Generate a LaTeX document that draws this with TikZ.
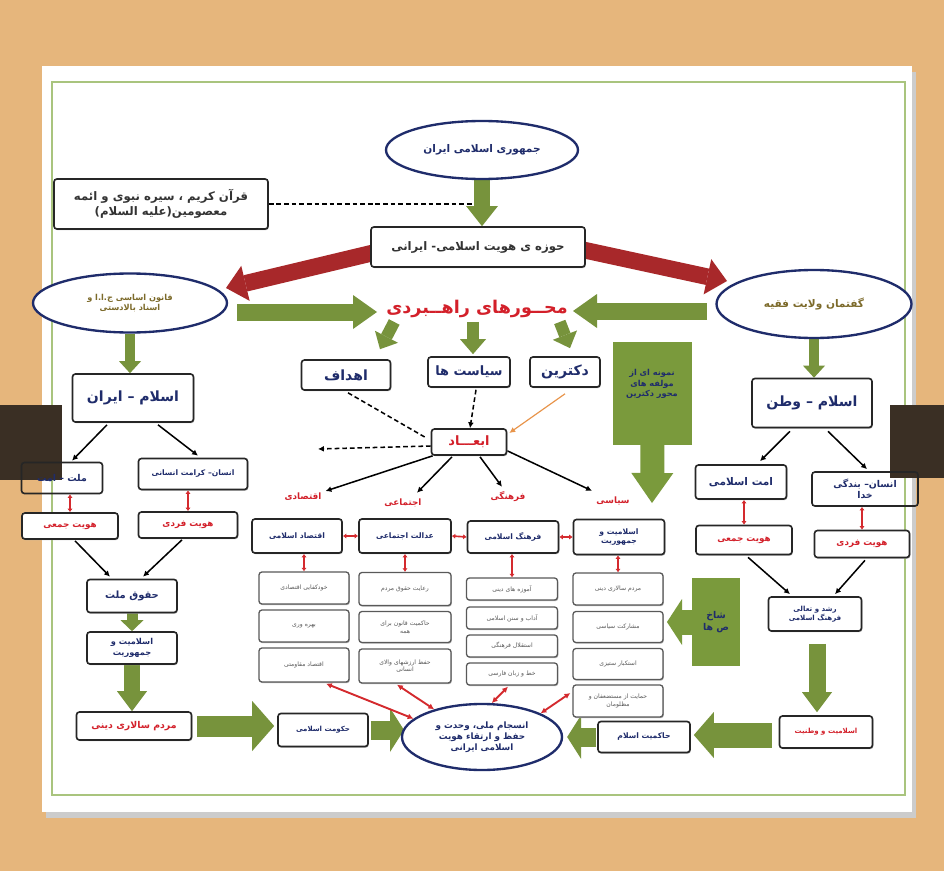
\documentclass[tikz,border=0pt]{standalone}
\usepackage{fontspec}
\usetikzlibrary{arrows.meta,shapes.geometric,shadows,calc}
\TeXXeTstate=1
\newfontfamily\arabicfont[Script=Arabic]{DejaVu Sans}
\newcommand\R[1]{{\arabicfont\beginR #1\endR}}
\newcommand\fsz[1]{\fontsize{#1}{\fpeval{#1*1.25}}\selectfont}
\definecolor{navy}{HTML}{1F2C6B}
\definecolor{redt}{HTML}{D3202A}
\definecolor{redA}{HTML}{A8282A}
\definecolor{redC}{HTML}{D42A2E}
\definecolor{gA}{HTML}{77933C}
\definecolor{gB}{HTML}{7A9A3C}
\definecolor{wood}{HTML}{E6B67C}
\definecolor{darkb}{HTML}{3A2F24}
\definecolor{gline}{HTML}{A9C47E}
\definecolor{olivet}{HTML}{7C6A2A}
\definecolor{orangeA}{HTML}{E8944A}
\pgfdeclarelayer{back}
\pgfdeclarelayer{conn}
\pgfsetlayers{back,conn,main}
\begin{document}
\begin{tikzpicture}[x=0.03cm,y=-0.03cm,
  wh/.style 2 args={minimum width=#1*0.03cm, minimum height=#2*0.03cm},
  box/.style={draw=black!85, line width=1.4pt, rounded corners=2.5pt, fill=white, inner sep=1pt, align=center, text=navy,
    general shadow={fill=black!30, shadow xshift=0.7pt, shadow yshift=-1pt}},
  tbox/.style={draw=black!85, line width=1.4pt, rounded corners=2.5pt, inner sep=1pt, align=center, text=navy},
  item/.style={box, draw=black!65, line width=1.1pt, text=black!65, font=\fsz{5.2}},
  ell/.style={ellipse, draw=navy, line width=2pt, fill=white, inner sep=0pt, align=center},
  blk/.style n args={4}{draw=#1, line width=#2, -{Triangle[width=#3,length=#4,line width=0pt]}},
  barr/.style={draw=black, line width=1.3pt, -{Latex[length=5pt,width=5pt]}},
  rcon/.style={draw=redC, line width=1.4pt, {Latex[length=3pt,width=4.5pt]}-{Latex[length=3pt,width=4.5pt]}},
  rarr/.style={draw=redC, line width=1.6pt, {Latex[length=5pt,width=5pt]}-{Latex[length=5pt,width=5pt]}},
  dsh/.style={draw=black, line width=1.3pt, dash pattern=on 4pt off 2.5pt},
  rlab/.style={text=redt, font=\fsz{7.5}\bfseries},
]
\useasboundingbox (0,0) rectangle (944,871);
\begin{pgfonlayer}{back}
\fill[wood] (0,0) rectangle (944,871);
\fill[black!20] (46,72) rectangle (916,818);
\fill[white] (42,66) rectangle (912,812);
\draw[gline, line width=2pt] (52,82) rectangle (905,795);
\fill[darkb] (0,405) rectangle (62,480);
\fill[darkb] (890,405) rectangle (944,478);
\end{pgfonlayer}

% top
\node[ell, wh={192}{58}, font=\fsz{9}\bfseries, text=navy] (jom) at (482,150) {\R{جمهوری اسلامی ایران}};
\node[box, wh={214}{50}, font=\fsz{10}\bfseries, text=black!80] (quran) at (161,204) {\R{قرآن کریم ، سیره نبوی و ائمه}\\\R{معصومین(علیه السلام)}};
\node[box, wh={214}{40}, font=\fsz{10}\bfseries, text=black!80] (hozeh) at (478,247) {\R{حوزه ی هویت اسلامی- ایرانی}};
\node[ell, wh={194}{59}, font=\fsz{7}\bfseries, text=olivet] (qanoon) at (130,303) {\R{قانون اساسی ج.ا.ا و}\\\R{اسناد بالادستی}};
\node[ell, wh={195}{68}, font=\fsz{9}\bfseries, text=olivet] (goft) at (814,304) {\R{گفتمان ولایت فقیه}};
\node[text=redt, font=\fsz{15}\bfseries] (mehvar) at (477,309) {\R{محــورهای راهــبردی}};

% strategic axes
\node[box, wh={89}{30}, font=\fsz{12}\bfseries] (ahdaf) at (346,375) {\R{اهداف}};
\node[box, wh={82}{30}, font=\fsz{11}\bfseries] (siasat) at (469,372) {\R{سیاست ها}};
\node[box, wh={70}{30}, font=\fsz{12}\bfseries] (doct) at (565,372) {\R{دکترین}};
\node[fill=gB, wh={79}{103}, inner sep=0pt] (nembox) at (652.5,393.5) {};
\node[font=\fsz{7}\bfseries, text=navy, align=center] (nemtxt) at (652,384) {\R{نمونه ای از}\\\R{مولفه های}\\\R{محور دکترین}};
\node[box, wh={75}{26}, font=\fsz{11}\bfseries, text=redt] (abad) at (469,442) {\R{ابعـــاد}};

% left column
\node[box, wh={121}{48}, font=\fsz{12}\bfseries] (ei) at (133,398) {\R{اسلام – ایران}};
\node[tbox, wh={81}{31}, font=\fsz{8}\bfseries] (mel) at (62,478) {\R{ملت – امت}};
\node[box, wh={109}{31}, font=\fsz{6.5}\bfseries] (ensk) at (193,474) {\R{انسان– کرامت انسانی}};
\node[box, wh={96}{26}, font=\fsz{7.5}\bfseries, text=redt] (hj1) at (70,526) {\R{هویت جمعی}};
\node[box, wh={99}{26}, font=\fsz{7.5}\bfseries, text=redt] (hf1) at (188,525) {\R{هویت فردی}};
\node[box, wh={90}{33}, font=\fsz{8.5}\bfseries] (hoq) at (132,596) {\R{حقوق ملت}};
\node[box, wh={90}{32}, font=\fsz{7}\bfseries] (esj1) at (132,648) {\R{اسلامیت و}\\\R{جمهوریت}};
\node[box, wh={115}{28}, font=\fsz{8}\bfseries, text=redt] (mrd) at (134,726) {\R{مردم سالاری دینی}};
\node[box, wh={90}{33}, font=\fsz{6}\bfseries] (hok) at (323,730) {\R{حکومت اسلامی}};

% center bottom
\node[ell, wh={160}{66}, font=\fsz{7.5}\bfseries, text=navy] (cent) at (482,737) {\R{انسجام ملی، وحدت و}\\\R{حفظ و ارتقاء هویت}\\\R{اسلامی ایرانی}};
\node[box, wh={92}{31}, font=\fsz{6.5}\bfseries] (hak) at (644,737) {\R{حاکمیت اسلام}};
\node[box, wh={93}{32}, font=\fsz{6}\bfseries, text=redt] (esv) at (826,732) {\R{اسلامیت و وطنیت}};

% right column
\node[box, wh={120}{49}, font=\fsz{12}\bfseries] (ev) at (812,403) {\R{اسلام – وطن}};
\node[box, wh={91}{34}, font=\fsz{9}\bfseries] (omt) at (741,482) {\R{امت اسلامی}};
\node[tbox, wh={106}{34}, font=\fsz{8}\bfseries] (ensb) at (865,489) {\R{انسان– بندگی}\\\R{خدا}};
\node[box, wh={96}{29}, font=\fsz{7.5}\bfseries, text=redt] (hj2) at (744,540) {\R{هویت جمعی}};
\node[box, wh={95}{27}, font=\fsz{7.5}\bfseries, text=redt] (hf2) at (862,544) {\R{هویت فردی}};
\node[box, wh={93}{34}, font=\fsz{6}\bfseries] (rsh) at (815,614) {\R{رشد و تعالی}\\\R{فرهنگ اسلامی}};

% dimensions
\node[rlab] (l1) at (303,497) {\R{اقتصادی}};
\node[rlab] (l2) at (403,503) {\R{اجتماعی}};
\node[rlab] (l3) at (508,497) {\R{فرهنگی}};
\node[rlab] (l4) at (613,501) {\R{سیاسی}};
\node[box, wh={90}{34}, font=\fsz{6.5}\bfseries] (c1) at (297,536) {\R{اقتصاد اسلامی}};
\node[box, wh={92}{34}, font=\fsz{6.5}\bfseries] (c2) at (405,536) {\R{عدالت اجتماعی}};
\node[box, wh={91}{32}, font=\fsz{6.5}\bfseries] (c3) at (513,537) {\R{فرهنگ اسلامی}};
\node[box, wh={91}{35}, font=\fsz{6.5}\bfseries] (c4) at (619,537) {\R{اسلامیت و}\\\R{جمهوریت}};

\node[item, wh={90}{32}] (i11) at (304,588) {\R{خودکفایی اقتصادی}};
\node[item, wh={90}{32}] (i12) at (304,626) {\R{بهره وری}};
\node[item, wh={90}{34}] (i13) at (304,665) {\R{اقتصاد مقاومتی}};
\node[item, wh={92}{33}] (i21) at (405,589) {\R{رعایت حقوق مردم}};
\node[item, wh={92}{31}] (i22) at (405,627) {\R{حاکمیت قانون برای}\\\R{همه}};
\node[item, wh={92}{34}] (i23) at (405,666) {\R{حفظ ارزشهای والای}\\\R{انسانی}};
\node[item, wh={91}{22}] (i31) at (512,589) {\R{آموزه های دینی}};
\node[item, wh={91}{22}] (i32) at (512,618) {\R{آداب و سنن اسلامی}};
\node[item, wh={91}{22}] (i33) at (512,646) {\R{استقلال فرهنگی}};
\node[item, wh={91}{22}] (i34) at (512,674) {\R{خط و زبان فارسی}};
\node[item, wh={90}{32}] (i41) at (618,589) {\R{مردم سالاری دینی}};
\node[item, wh={90}{31}] (i42) at (618,627) {\R{مشارکت سیاسی}};
\node[item, wh={90}{31}] (i43) at (618,664) {\R{استکبار ستیزی}};
\node[item, wh={90}{32}] (i44) at (618,701) {\R{حمایت از مستضعفان و}\\\R{مظلومان}};
\node[fill=gB, wh={48}{88}, font=\fsz{8}\bfseries, text=navy, align=center] (shbox) at (716,622) {\R{شاخ}\\\R{ص ها}};

% free ends
\coordinate (dqend) at (472,204);
\coordinate (rLs) at (385,250);
\coordinate (rLe) at (226,288);
\coordinate (rRs) at (570,247);
\coordinate (rRe) at (727,281);
\coordinate (gLs) at (237,312);
\coordinate (gLe) at (377,312);
\coordinate (gRs) at (707,311);
\coordinate (gRe) at (573,311);
\coordinate (nemtip) at (652,503);
\coordinate (shtip) at (667,622);
\coordinate (dl) at (318,449);
\coordinate (hokend) at (404,730);

\begin{pgfonlayer}{conn}
\draw[dsh] (quran.east) -- (dqend);
\draw[blk={gA}{0.48cm}{0.95cm}{0.6cm}] (jom.south) -- (jom.south |- hozeh.north);
\draw[blk={redA}{0.5cm}{1.08cm}{0.6cm}] (rLs) -- (rLe);
\draw[blk={redA}{0.5cm}{1.08cm}{0.6cm}] (rRs) -- (rRe);
\draw[blk={gA}{0.51cm}{1.02cm}{0.72cm}] (gLs) -- (gLe);
\draw[blk={gA}{0.51cm}{1.02cm}{0.72cm}] (gRs) -- (gRe);
\draw[blk={gA}{0.36cm}{0.78cm}{0.42cm}] ($(mehvar.south west)+(12,0)$) -- ($(ahdaf.north)+(34,-10)$);
\draw[blk={gA}{0.36cm}{0.78cm}{0.45cm}] ($(mehvar.south)+(-4,0)$) -- ($(siasat.north)+(4,-2)$);
\draw[blk={gA}{0.36cm}{0.78cm}{0.42cm}] ($(mehvar.south east)+(-12,0)$) -- ($(doct.north)+(5,-8)$);
\draw[blk={gA}{0.3cm}{0.66cm}{0.36cm}] (qanoon.south) -- (qanoon.south |- ei.north);
\draw[blk={gA}{0.3cm}{0.66cm}{0.36cm}] (goft.south) -- (goft.south |- ev.north);
\draw[blk={gB}{0.72cm}{1.26cm}{0.9cm}] ($(nembox.south)+(0,-2)$) -- (nemtip);
\draw[blk={gB}{0.75cm}{1.38cm}{0.45cm}] ($(shbox.west)+(2,0)$) -- (shtip);
\draw[blk={gA}{0.33cm}{0.69cm}{0.33cm}] (hoq.south) -- (hoq.south |- esj1.north);
\draw[blk={gA}{0.5cm}{0.9cm}{0.6cm}] (esj1.south) -- (esj1.south |- mrd.north);
\draw[blk={gA}{0.63cm}{1.5cm}{0.66cm}] ($(mrd.east)+(5,0)$) -- ($(mrd.east -| hok.west)+(-3,0)$);
\draw[blk={gA}{0.57cm}{1.32cm}{0.42cm}] ($(hok.east)+(2,0)$) -- (hokend);
\draw[blk={gA}{0.57cm}{1.32cm}{0.42cm}] ($(hak.west)+(-1,0)$) -- ($(cent.east)+(4,0)$);
\draw[blk={gA}{0.75cm}{1.38cm}{0.6cm}] ($(esv.west)+(-7,3)$) -- ($(hak.east)+(3,-2)$);
\draw[blk={gA}{0.51cm}{0.9cm}{0.6cm}] ($(rsh.south)+(2,12)$) -- ($(esv.north)+(-9,-3)$);

\draw[dsh] ($(ahdaf.south)+(2,2)$) -- ($(abad.west)+(-6,-5)$);
\draw[dsh, -{Latex[length=5pt,width=5pt]}] ($(siasat.south)+(7,2)$) -- ($(abad.north)+(1,0)$);
\draw[dsh, -{Latex[length=5pt,width=5pt]}] ($(abad.west)+(0,4)$) -- (dl);
\draw[draw=orangeA, line width=1pt, -{Latex[length=5pt,width=5pt]}] ($(doct.south)+(0,6)$) -- ($(abad.east)+(2,-9)$);

\draw[barr] ($(abad.south west)+(2,0)$) -- ($(l1.north east)+(0,2)$);
\draw[barr] ($(abad.south)+(-17,1)$) -- ($(l2.north)+(14,-2)$);
\draw[barr] ($(abad.south)+(11,1)$) -- ($(l3.north)+(-6,-1)$);
\draw[barr] ($(abad.south east)+(0,-5)$) -- ($(l4.north)+(-21,-2)$);

\draw[barr] ($(ei.south)+(-26,2)$) -- ($(mel.north)+(10,-1)$);
\draw[barr] ($(ei.south)+(25,2)$) -- ($(ensk.north)+(5,-2)$);
\draw[barr] ($(hj1.south)+(5,1)$) -- ($(hoq.north)+(-22,-2)$);
\draw[barr] ($(hf1.south)+(-6,1)$) -- ($(hoq.north)+(11,-2)$);
\draw[barr] ($(ev.south)+(-22,3)$) -- ($(omt.north)+(19,-3)$);
\draw[barr] ($(ev.south)+(16,3)$) -- ($(ensb.north)+(2,-2)$);
\draw[barr] ($(hj2.south)+(4,2)$) -- ($(rsh.north)+(-25,-2)$);
\draw[barr] ($(hf2.south)+(3,2)$) -- ($(rsh.north)+(20,-2)$);

\draw[rcon] (hj1.north |- mel.south) -- (hj1.north);
\draw[rcon] (hf1.north |- ensk.south) -- (hf1.north);
\draw[rcon] (hj2.north |- omt.south) -- (hj2.north);
\draw[rcon] (hf2.north |- ensb.south) -- (hf2.north);
\draw[rcon] (c1.east) -- (c2.west);
\draw[rcon] (c2.east) -- (c3.west);
\draw[rcon] (c3.east) -- (c4.west);
\draw[rcon] (i11.north |- c1.south) -- (i11.north);
\draw[rcon] (i21.north |- c2.south) -- (i21.north);
\draw[rcon] (i31.north |- c3.south) -- (i31.north);
\draw[rcon] (i41.north |- c4.south) -- (i41.north);

\draw[rarr] ($(i13.south)+(22,1)$) -- (cent.165);
\draw[rarr] ($(i23.south)+(-8,1)$) -- (cent.150);
\draw[rarr] ($(i34.south)+(-4,1)$) -- (cent.74);
\draw[rarr] ($(i44.west)+(-2,-8)$) -- (cent.22);
\end{pgfonlayer}
\end{tikzpicture}
\end{document}
